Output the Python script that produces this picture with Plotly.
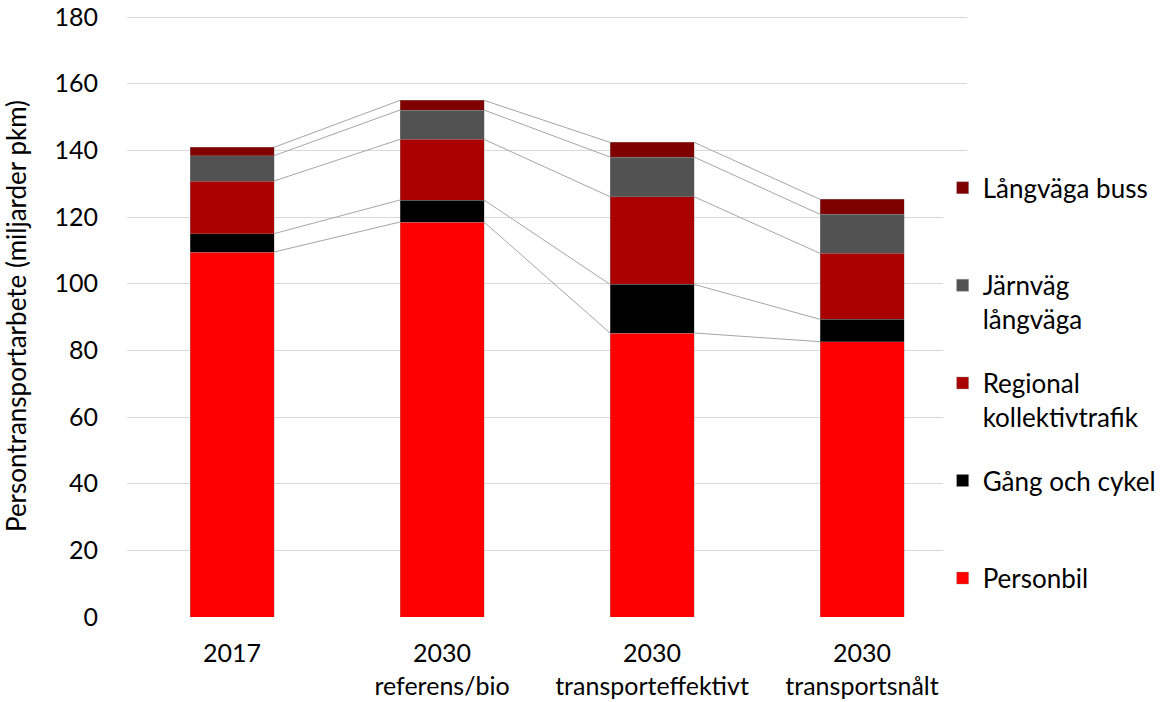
import plotly.graph_objects as go

categories = ["2017", "2030<br>referens/bio", "2030<br>transporteffektivt", "2030<br>transportsnålt"]
personbil = [109.5, 118.5, 85.2, 82.6]
gang_cykel = [5.5, 6.6, 14.6, 6.7]
regional = [15.8, 18.2, 26.3, 19.8]
jarnvag = [7.6, 8.8, 11.9, 11.7]
buss = [2.5, 2.9, 4.4, 4.5]
y_ticks_max = 180

series = [
    ("Personbil<br>\u00a0", personbil, "#FF0000"),
    ("Gång och cykel<br>\u00a0", gang_cykel, "#000000"),
    ("Regional<br>kollektivtrafik", regional, "#AA0000"),
    ("Järnväg<br>långväga", jarnvag, "#525252"),
    ("Långväga buss<br>\u00a0", buss, "#800000"),
]

FONT = "Lato, 'Open Sans', sans-serif"
FS_TICK = 25
FS_LEG = 26
FS_TITLE = 26
xpos = list(range(len(categories)))
bar_w = 0.4

fig = go.Figure()
cum = [0.0] * len(categories)
levels = []
n = len(series)
for i, (name, vals, col) in enumerate(series):
    fig.add_trace(go.Bar(
        x=xpos, y=vals, name=name, width=bar_w,
        marker=dict(color=col, line=dict(color="rgba(150,150,150,0.6)", width=0.6)),
        legendgroup=f"g{i}", legendrank=n - i,
    ))
    cum = [c + v for c, v in zip(cum, vals)]
    levels.append(list(cum))

# connector lines between stacked segment tops
for lev in levels:
    xs, ys = [], []
    for j in range(len(categories) - 1):
        xs += [xpos[j] + bar_w / 2, xpos[j + 1] - bar_w / 2, None]
        ys += [lev[j], lev[j + 1], None]
    fig.add_trace(go.Scatter(x=xs, y=ys, mode="lines", showlegend=False,
                             line=dict(color="#A6A6A6", width=1), hoverinfo="skip"))

fig.update_layout(
    barmode="stack",
    width=1164, height=702,
    margin=dict(l=127, r=197, t=15, b=85, autoexpand=False),
    paper_bgcolor="white", plot_bgcolor="white",
    font=dict(family=FONT, size=FS_TICK, color="#000000"),
    showlegend=True,
    legend=dict(
        x=0.971, xanchor="left", y=0.752, yanchor="top",
        traceorder="grouped", tracegroupgap=27,
        valign="top", font=dict(size=FS_LEG, family=FONT),
        itemwidth=30,
    ),
    xaxis=dict(
        range=[-0.5, len(categories) - 0.5],
        tickmode="array", tickvals=xpos, ticktext=categories,
        showgrid=False, zeroline=False, showline=False, ticks="",
        tickfont=dict(size=FS_TICK), ticklabelstandoff=19, automargin=False,
    ),
    yaxis=dict(
        range=[0, y_ticks_max + 0.6], dtick=20, tick0=0,
        showgrid=True, gridcolor="#D9D9D9", gridwidth=1,
        zeroline=False, showline=False, ticks="",
        tickfont=dict(size=FS_TICK), ticklabeloverflow="allow",
        ticklabelstandoff=28, automargin=False,
        title=dict(text="Persontransportarbete (miljarder pkm)", font=dict(size=FS_TITLE), standoff=20),
    ),
)

fig.write_html("out.html", post_script="document.body.style.margin='0';",
               config={"displayModeBar": False})
